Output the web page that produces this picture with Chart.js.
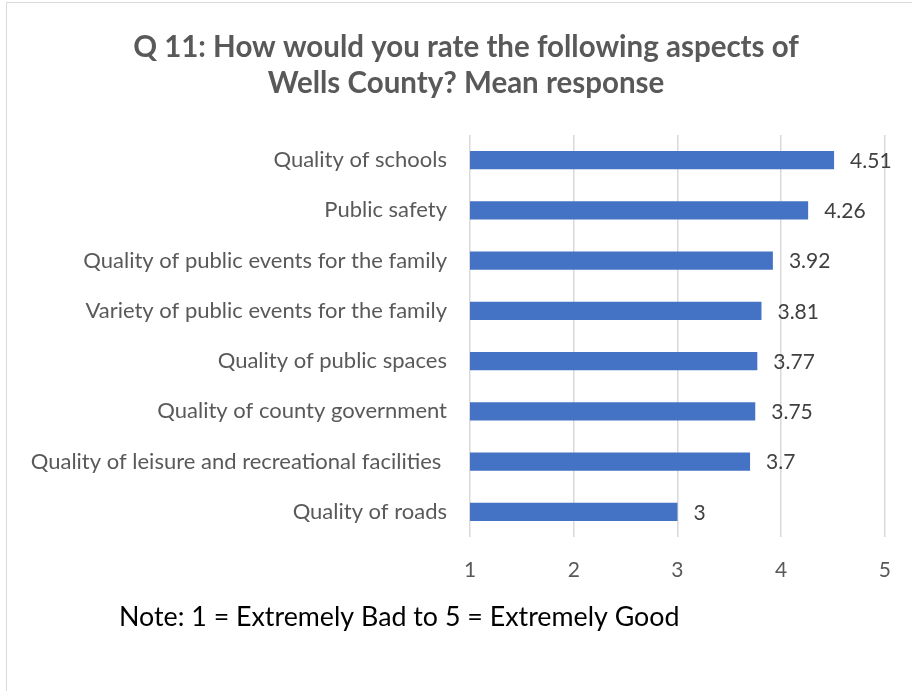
<!DOCTYPE html>
<html>
<head>
<meta charset="utf-8">
<script src="https://cdn.jsdelivr.net/npm/chart.js@4"></script>
<style>
  html,body{margin:0;padding:0;background:#fff;overflow:hidden}
  #wrap{position:relative;width:912px;height:691px}
  #frame{position:absolute;left:6px;top:2px;width:1000px;height:1000px;border:1px solid #d9d9d9;pointer-events:none}
  canvas{position:absolute;left:0;top:0}
</style>
</head>
<body>
<div id="wrap">
  <div id="frame"></div>
  <canvas id="chart" width="912" height="691"></canvas>
</div>
<script>
// categories and mean responses (top to bottom)
const categories = [
  'Quality of schools',
  'Public safety',
  'Quality of public events for the family',
  'Variety of public events for the family',
  'Quality of public spaces',
  'Quality of county government',
  'Quality of leisure and recreational facilities ',
  'Quality of roads'
];
const meanValues = [4.51, 4.26, 3.92, 3.81, 3.77, 3.75, 3.7, 3];
const xTicks = [1, 2, 3, 4, 5];
const titleLines = ['Q 11: How would you rate the following aspects of', 'Wells County? Mean response'];
const noteText = 'Note: 1 = Extremely Bad to 5 = Extremely Good';

const FONT = 'Lato, "Open Sans", sans-serif';

// value labels at the end of each bar
const valueLabels = {
  id: 'valueLabels',
  afterDatasetsDraw(chart) {
    const ctx = chart.ctx;
    const meta = chart.getDatasetMeta(0);
    ctx.save();
    ctx.font = '21px ' + FONT;
    ctx.fillStyle = '#404040';
    ctx.textAlign = 'left';
    ctx.textBaseline = 'middle';
    meta.data.forEach((bar, i) => {
      ctx.fillText(String(meanValues[i]), bar.x + 16, bar.y + 1);
    });
    ctx.restore();
  }
};

// title (centred a little right of the canvas middle, like the original) and the note
const headText = {
  id: 'headText',
  afterDraw(chart) {
    const ctx = chart.ctx;
    ctx.save();
    ctx.textBaseline = 'middle';
    ctx.font = 'bold 29.5px ' + FONT;
    ctx.fillStyle = '#595959';
    ctx.textAlign = 'center';
    titleLines.forEach((t, i) => ctx.fillText(t, 466, 47 + i * 36));
    ctx.font = '26.8px ' + FONT;
    ctx.fillStyle = '#000';
    ctx.textAlign = 'left';
    ctx.fillText(noteText, 119, 617);
    ctx.restore();
  }
};

new Chart(document.getElementById('chart'), {
  type: 'bar',
  data: {
    labels: categories,
    datasets: [{
      data: meanValues,
      backgroundColor: '#4472C4',
      borderWidth: 0,
      barPercentage: 0.36,
      categoryPercentage: 1
    }]
  },
  options: {
    indexAxis: 'y',
    responsive: false,
    animation: false,
    layout: { padding: { top: 135, right: 25, bottom: 100, left: 0 } },
    plugins: {
      legend: { display: false },
      tooltip: { enabled: false },
      title: { display: false }
    },
    scales: {
      x: {
        min: 1, max: 5,
        afterBuildTicks: s => { s.ticks = xTicks.map(v => ({ value: v })); },
        afterFit: s => { s.height = 54; },
        grid: { color: '#d9d9d9', lineWidth: 1.5, drawTicks: false },
        border: { display: false },
        ticks: { color: '#595959', padding: 21, font: { family: FONT, size: 21 } }
      },
      y: {
        afterFit: s => { s.width = 470; },
        grid: { display: false, drawTicks: false },
        border: { display: false },
        ticks: { color: '#595959', padding: 23, font: { family: FONT, size: 22 } }
      }
    }
  },
  plugins: [valueLabels, headText]
});
</script>
</body>
</html>
